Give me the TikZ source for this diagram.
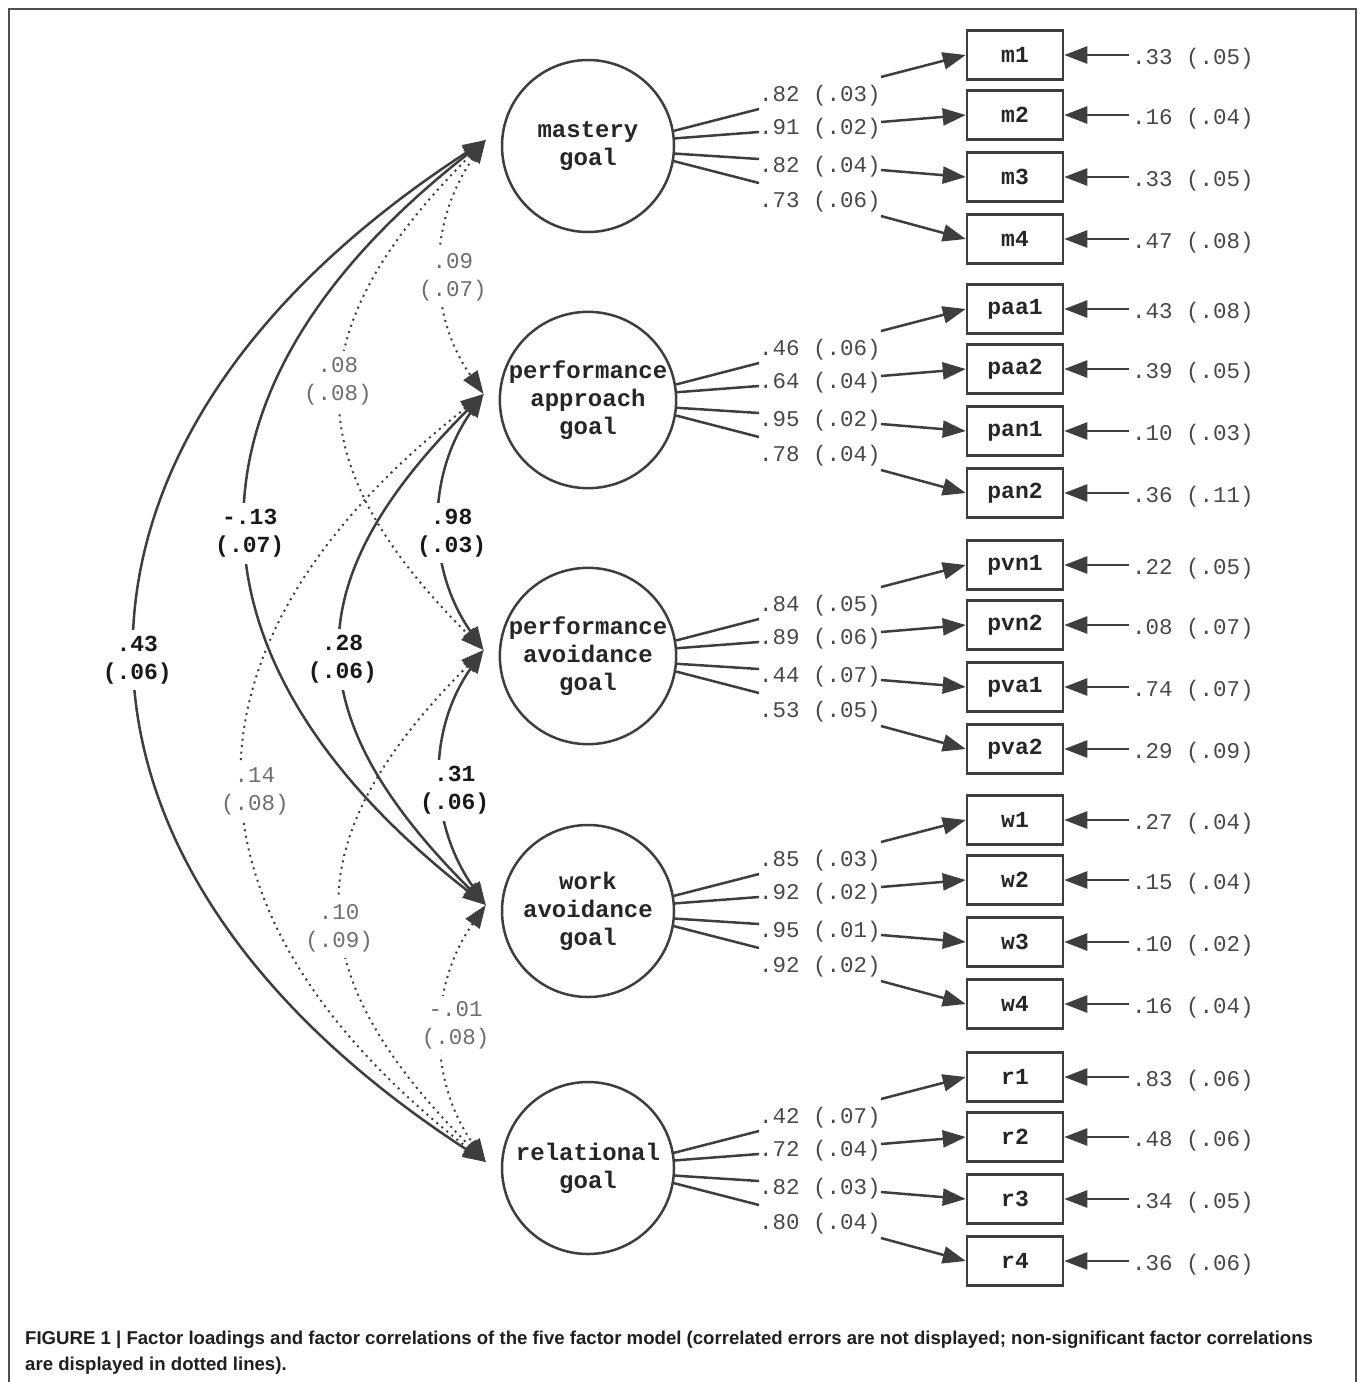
\documentclass[tikz,border=0pt]{standalone}
\usepackage{fontspec}
\usepackage{tikz}
\usetikzlibrary{arrows.meta}

\newfontfamily\diagfont{Liberation Mono}
\newfontfamily\capfont{Liberation Sans}

\definecolor{linegray}{RGB}{62,62,62}
\definecolor{numgray}{RGB}{72,72,72}
\definecolor{nsgray}{RGB}{110,110,110}
\definecolor{framegray}{RGB}{80,80,80}

\begin{document}
\begin{tikzpicture}[
        x=1pt, y=1pt,
        >={Stealth[inset=0pt, length=23pt, width=17pt]},
        factor/.style={
            circle,
            draw=linegray,
            line width=2.5pt,
            minimum size=172pt,
            inner sep=0pt,
            align=center,
            text=black!85,
            font=\diagfont\bfseries\fontsize{24}{28}\selectfont
        },
        item/.style={
            rectangle,
            draw=linegray,
            line width=2.5pt,
            minimum width=96pt,
            minimum height=49pt,
            text=black!85,
            font=\diagfont\bfseries\fontsize{23}{28}\selectfont
        },
        num/.style={
            inner sep=0pt,
            text=numgray,
            font=\diagfont\fontsize{22.5}{28}\selectfont
        },
        load/.style={
            line width=2.5pt,
            draw=linegray
        },
        arrow/.style={
            ->,
            line width=2.5pt,
            draw=linegray
        },
        corr/.style={
            <->,
            line width=2.5pt,
            draw=linegray
        },
        nsline/.style={
            line width=2pt,
            dash pattern=on 2pt off 4.5pt
        },
        siglab/.style={
            fill=white,
            inner sep=6pt,
            align=center,
            text=black!90,
            font=\diagfont\bfseries\fontsize{23}{28}\selectfont
        },
        nslab/.style={
            fill=white,
            inner sep=6pt,
            align=center,
            text=nsgray,
            font=\diagfont\fontsize{22.5}{28}\selectfont
        },
        adj/.style={out=235, in=125, looseness=1},
        skipa/.style={out=225, in=135, looseness=1.34},
        skipb/.style={out=218, in=142, looseness=1.35},
        skipc/.style={out=213, in=147, looseness=1.39},
        captext/.style={
            anchor=base west,
            inner sep=0pt,
            text=black!88,
            font=\capfont\bfseries\fontsize{18.6}{26}\selectfont
        }
    ]
    \useasboundingbox (0,0) rectangle (1360,-1382);
    \draw[framegray, line width=1.5pt] (9,-1382) -- (9,-9) -- (1356,-9) -- (1356,-1382);

    \node[factor] (mg) at (588,-146) {mastery\\goal};
    \node[factor] (pap) at (588,-400) {performance\\approach\\goal};
    \node[factor] (pav) at (588,-656) {performance\\avoidance\\goal};
    \node[factor] (wag) at (588,-911) {work\\avoidance\\goal};
    \node[factor] (rg) at (588,-1168) {relational\\goal};

    \foreach \f/\cy/\i/\k/\lo/\re in {
        mg/146/m1/0/.82 (.03)/.33 (.05),
        mg/146/m2/1/.91 (.02)/.16 (.04),
        mg/146/m3/2/.82 (.04)/.33 (.05),
        mg/146/m4/3/.73 (.06)/.47 (.08),
        pap/400/paa1/0/.46 (.06)/.43 (.08),
        pap/400/paa2/1/.64 (.04)/.39 (.05),
        pap/400/pan1/2/.95 (.02)/.10 (.03),
        pap/400/pan2/3/.78 (.04)/.36 (.11),
        pav/656/pvn1/0/.84 (.05)/.22 (.05),
        pav/656/pvn2/1/.89 (.06)/.08 (.07),
        pav/656/pva1/2/.44 (.07)/.74 (.07),
        pav/656/pva2/3/.53 (.05)/.29 (.09),
        wag/911/w1/0/.85 (.03)/.27 (.04),
        wag/911/w2/1/.92 (.02)/.15 (.04),
        wag/911/w3/2/.95 (.01)/.10 (.02),
        wag/911/w4/3/.92 (.02)/.16 (.04),
        rg/1168/r1/0/.42 (.07)/.83 (.06),
        rg/1168/r2/1/.72 (.04)/.48 (.06),
        rg/1168/r3/2/.82 (.03)/.34 (.05),
        rg/1168/r4/3/.80 (.04)/.36 (.06)
    }{
        \pgfmathsetmacro\dy{{-91,-31,31,93}[\k]}
        \pgfmathsetmacro\ly{{-50,-17,21,56}[\k]}
        \pgfmathtruncatemacro\ang{{10,5,-5,-10}[\k]}
        \pgfmathsetmacro\ea{{-13,-3,8,19}[\k]}
        \pgfmathsetmacro\sa{{19,7,-3,-14}[\k]}
        \node[item] (\i) at (1015, {-\cy-(\dy)}) {\i};
        \node[num, anchor=west, inner xsep=3pt] (e\i) at (1129, {-\cy-(\dy)-4}) {\re};
        \node[num] (l\i) at (820, {-\cy-(\ly)}) {\lo};
        \draw[load] (\f.\ang) -- ([yshift=\ea pt]l\i.west);
        \draw[arrow] ([yshift=\sa pt]l\i.east) -- (\i.west);
        \draw[arrow] ([yshift=4pt]e\i.west) -- (\i.east);
    }

    \foreach \f in {mg,pap,pav,wag,rg}
        \coordinate (\f-in) at ([shift={(-15pt,6pt)}]\f.west);

    \draw[corr] (mg-in) to[skipc] node[siglab, yshift=-9pt] {.43\\(.06)} (rg-in);
    \draw[corr] (mg-in) to[skipb] node[siglab, xshift=2pt, yshift=-11pt] {-.13\\(.07)} (wag-in);
    \draw[corr, nsline] (pap-in) to[skipb] node[nslab, xshift=10pt, yshift=-13pt] {.14\\(.08)} (rg-in);
    \draw[corr, nsline] (mg-in) to[skipa] node[nslab, xshift=-5pt, yshift=14pt] {.08\\(.08)} (pav-in);
    \draw[corr] (pap-in) to[skipa] node[siglab, yshift=-10pt] {.28\\(.06)} (wag-in);
    \draw[corr, nsline] (pav-in) to[skipa] node[nslab, xshift=-3pt, yshift=-22pt] {.10\\(.09)} (rg-in);
    \draw[corr, nsline] (mg-in) to[adj] node[nslab, xshift=11pt, yshift=-10pt] {.09\\(.07)} (pap-in);
    \draw[corr] (pap-in) to[adj] node[siglab, xshift=11pt, yshift=-11pt] {.98\\(.03)} (pav-in);
    \draw[corr] (pav-in) to[adj] node[siglab, xshift=13pt, yshift=-13pt] {.31\\(.06)} (wag-in);
    \draw[corr, nsline] (wag-in) to[adj] node[nslab, xshift=13pt, yshift=8pt] {-.01\\(.08)} (rg-in);

    \node[captext] (cap1) at (25,-1344) {FIGURE 1 | Factor loadings and factor correlations of the five factor model (correlated errors are not displayed; non-significant factor correlations};
    \node[captext] (cap2) at (25,-1370) {are displayed in dotted lines).};
\end{tikzpicture}
\end{document}
